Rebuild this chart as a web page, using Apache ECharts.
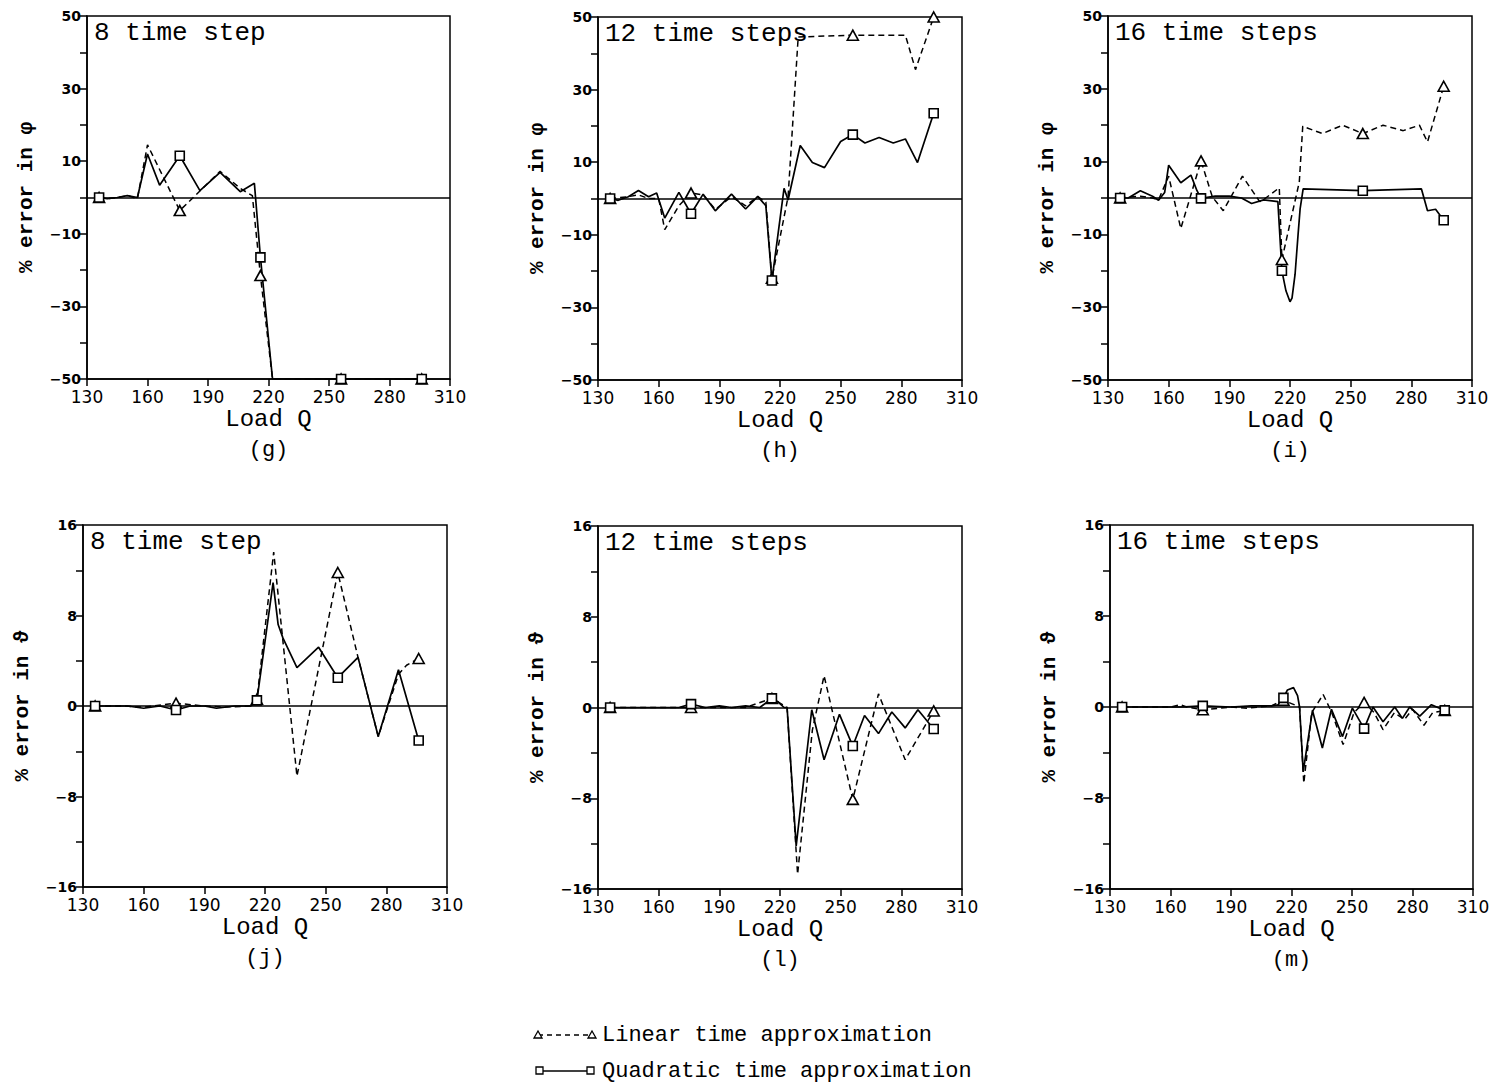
<!DOCTYPE html>
<html><head><meta charset="utf-8">
<script src="https://cdn.jsdelivr.net/npm/echarts@6/dist/echarts.min.js"></script>
<style>html,body{margin:0;padding:0;background:#fff}#c{width:1494px;height:1092px}</style>
</head><body><div id="c"></div>
<script>
// ---------- DATA ----------
const markerQ = [136, 176, 216, 256, 296];
const xMin = 130, xMax = 310, xStep = 30;

// (g) phi, 8 time steps
const gLinQ  = [136,140,145,150,155,160,176,196,206,212,216,222,256,296];
const gLinV  = [0,-0.3,0,0.5,-0.3,14.5,-3.6,7.2,2.5,0.5,-21.5,-50,-50,-50];
const gQuadQ = [136,140,145,150,155,160,166,176,186,196,206,213,216,222,256,296];
const gQuadV = [0,-0.3,0,0.5,0,12,3.4,11.5,1.9,6.9,1.6,3.9,-16.5,-50,-50,-50];

// (h) phi, 12 time steps
const hLinQ  = [136,145,150,155,160,163,170,176,182,188,196,203,209,213,216,224,229,256,282,287,296];
const hLinV  = [0,0.5,1,0,0,-8.6,-2,1.5,1,-3,0.5,-2,0.5,-1,-22,0.5,44.5,45,45,35.5,50];
const hQuadQ = [136,140,145,150,155,159,163,170,176,182,188,196,203,209,213,216,222,224,230,236,242,250,256,262,269,276,282,288,296];
const hQuadV = [0,-0.5,0.5,2.2,0.5,1.5,-5.4,1.7,-4.2,1.2,-3.4,1.2,-2.9,0.6,-2,-22.6,2.8,-0.4,14.6,9.9,8.5,15.7,17.6,15.3,16.8,15.3,16.4,9.9,23.5];

// (i) phi, 16 time steps
const iLinQ  = [136,146,152,155,160,166,176,181.6,187,196.5,205,208,214.7,216,224.6,226.3,236,246,256,266,276,284,288,296];
const iLinV  = [0,0.5,0,-0.5,6,-8.4,10.2,0.3,-3.5,6,-1,0,2.8,-16.9,4.4,19.7,17.7,20,17.7,20,18.5,20,15.4,30.7];
const iQuadQ = [136,140,146,152,155,158,160,166,171,174,176,183,190,196,201,207,214,216,218,220,221,222.5,224,225,226.5,256,285,288,292,296];
const iQuadV = [0,0,2,0.5,-0.6,1.5,9,4.2,6.3,2,-0.1,0.5,0.5,0,-1.5,-0.5,-1,-20,-25.5,-28.5,-27.5,-21,-10,-3,2.5,2,2.5,-3.5,-3.1,-6.1];

// (j) theta, 8 time steps
const jLinQ  = [136,150,160,176,190,200,213,216,224.3,235.8,256,266,276,286,290,296];
const jLinV  = [0,0,-0.1,0.25,0,-0.1,0,0.6,13.6,-6.2,11.8,4.3,-2.7,2.8,3.6,4.2];
const jQuadQ = [136,145,152,160,168,176,183,190,196,205,213,216,224,226.5,228.9,235.8,246.5,256,266,276,286,296];
const jQuadV = [0,0,0,-0.2,0,-0.35,0,0,-0.2,0,0,0.5,10.9,7.2,6,3.4,5.2,2.5,4.3,-2.7,3.2,-3.05];

// (l) theta, 12 time steps
const lLinQ  = [136,150,176,190,203,216,219,223.5,228.7,236,241.8,256,268.7,281.9,296];
const lLinV  = [0,0,0,0,0,0.8,0.5,0,-14.7,-2,2.8,-8.1,1.2,-4.6,-0.3];
const lQuadQ = [136,150,160,170,176,183,190,196,203,210,216,219,222,223.5,228,235.7,241.8,249.4,256,261.8,268.7,275.3,281.9,288.2,296];
const lQuadV = [0,0,0,0,0.3,0,0.15,0,0.15,0,0.8,0.5,0,0,-12.2,-0.2,-4.6,-0.6,-3.4,-0.7,-2.3,-0.4,-1.8,-0.2,-1.9];

// (m) theta, 16 time steps
const mLinQ  = [136,160,165,168,176,190,198,210,216,220,224,226.1,230,235.7,240,245.6,251,256,261,265.4,271,276,280,285.7,290,296];
const mLinV  = [0,0,0.2,0,-0.25,0,-0.1,0.1,0.6,0.3,0,-6.7,-0.5,1.1,-0.5,-3.3,-0.5,0.4,-0.5,-2.0,-0.5,-1.1,-0.2,-1.6,-0.5,-0.3];
const mQuadQ = [136,150,165,176,190,200,210,214,216,218,221,223,224,225.8,230.4,235.3,239.8,245.3,250.2,256,260.4,265.4,271.2,275,278.6,283.6,289.4,296];
const mQuadV = [0,0,0,0.1,0,0.1,0.1,0.2,0.8,1.5,1.7,1,0,-5.7,-0.3,-3.6,-0.2,-2.6,-0.1,-1.9,0,-1.3,0,-1.0,0,-0.8,0.2,-0.3];

const panelLetters = ['(g)','(h)','(i)','(j)','(l)','(m)'];
const panelTitles  = ['8 time step','12 time steps','16 time steps','8 time step','12 time steps','16 time steps'];
const yNames       = ['% error in \u03c6','% error in \u03c6','% error in \u03c6','% error in \u03d1','% error in \u03d1','% error in \u03d1'];
const xName        = 'Load Q';
const legendLabels = ['Linear time approximation','Quadratic time approximation'];
const phiRange   = [-50, 50, 10, 20];   // min, max, tick step, label step
const thetaRange = [-16, 16, 4, 8];

// ---------- LAYOUT ----------
const grids = [
  {left:87,  top:16,  width:363, height:363},
  {left:598, top:17,  width:364, height:363},
  {left:1108,top:16,  width:364, height:364},
  {left:83,  top:525, width:364, height:362},
  {left:598, top:526, width:364, height:363},
  {left:1110,top:525, width:363, height:364}
];
const panels = [
  {lin:[gLinQ,gLinV], quad:[gQuadQ,gQuadV], r:phiRange},
  {lin:[hLinQ,hLinV], quad:[hQuadQ,hQuadV], r:phiRange},
  {lin:[iLinQ,iLinV], quad:[iQuadQ,iQuadV], r:phiRange},
  {lin:[jLinQ,jLinV], quad:[jQuadQ,jQuadV], r:thetaRange},
  {lin:[lLinQ,lLinV], quad:[lQuadQ,lQuadV], r:thetaRange},
  {lin:[mLinQ,mLinV], quad:[mQuadQ,mQuadV], r:thetaRange}
];

const MONO = '"Liberation Mono", "DejaVu Sans Mono", monospace';
const SANS = '"DejaVu Sans", "Liberation Sans", sans-serif';
const fmtNum = v => v < 0 ? '\u2212' + Math.abs(v) : String(v);
const zip = (q, v) => q.map((x, k) => [x, v[k]]);
const markers = (q, v) => zip(q, v).filter(p => markerQ.includes(p[0]));

const option = {
  animation: false,
  backgroundColor: '#fff',
  grid: [], xAxis: [], yAxis: [], series: [], graphic: []
};

panels.forEach((p, i) => {
  const g = grids[i];
  option.grid.push(Object.assign({show:true, borderColor:'#000', borderWidth:1.5,
    backgroundColor:'transparent', containLabel:false, outerBoundsMode:'none'}, g));
  option.xAxis.push({
    type:'value', gridIndex:i, min:xMin, max:xMax, interval:xStep,
    name:xName, nameLocation:'middle', nameGap:28,
    nameTextStyle:{fontFamily:MONO, fontSize:24, color:'#000'},
    axisLine:{onZero:false, lineStyle:{color:'#000', width:1.5}},
    axisTick:{show:true, inside:false, length:7, lineStyle:{color:'#000', width:1.5}},
    axisLabel:{fontFamily:SANS, fontSize:17, color:'#000', margin:9, showMinLabel:true, showMaxLabel:true},
    splitLine:{show:false}
  });
  const [ymin, ymax, ystep, lstep] = p.r;
  option.yAxis.push({
    type:'value', gridIndex:i, min:ymin, max:ymax, interval:ystep,
    name:yNames[i], nameLocation:'middle', nameGap:50, nameRotate:90,
    nameTextStyle:{fontFamily:MONO, fontSize:21, fontWeight:'bold', color:'#000'},
    axisLine:{onZero:false, lineStyle:{color:'#000', width:1.5}},
    axisTick:{show:true, inside:false, length:7, lineStyle:{color:'#000', width:1.5}},
    axisLabel:{fontFamily:SANS, fontSize:14, fontWeight:'bold', color:'#000', margin:6,
      showMinLabel:true, showMaxLabel:true,
      formatter: v => ((v - ymin) % lstep === 0 ? fmtNum(v) : '')},
    splitLine:{show:false}
  });
  option.series.push({
    type:'line', xAxisIndex:i, yAxisIndex:i, name:legendLabels[0],
    data:zip(p.lin[0], p.lin[1]), symbol:'none', showSymbol:false, smooth:false,
    lineStyle:{color:'#000', width:1.5, type:[6,4]}, z:3
  });
  option.series.push({
    type:'line', xAxisIndex:i, yAxisIndex:i, name:legendLabels[1],
    data:zip(p.quad[0], p.quad[1]), symbol:'none', showSymbol:false, smooth:false,
    lineStyle:{color:'#000', width:1.7, type:'solid'}, z:3,
    markLine:{silent:true, symbol:['none','none'], label:{show:false},
      lineStyle:{color:'#000', type:'solid', width:1.5}, data:[{yAxis:0}]}
  });
  option.series.push({
    type:'scatter', xAxisIndex:i, yAxisIndex:i, clip:false,
    data:markers(p.lin[0], p.lin[1]), symbol:'triangle', symbolSize:[11,10],
    itemStyle:{color:'#fff', borderColor:'#000', borderWidth:1.6, opacity:1}, z:5
  });
  option.series.push({
    type:'scatter', xAxisIndex:i, yAxisIndex:i, clip:false,
    data:markers(p.quad[0], p.quad[1]), symbol:'rect', symbolSize:9,
    itemStyle:{color:'#fff', borderColor:'#000', borderWidth:1.6, opacity:1}, z:6
  });
  option.graphic.push({
    type:'text', left:g.left + 7, top:g.top + 4, z:10,
    style:{text:panelTitles[i], font:'26px ' + MONO, fill:'#000'}
  });
  option.graphic.push({
    type:'text', x:g.left + g.width / 2, y:g.top + g.height + 71, z:10,
    style:{text:panelLetters[i], font:'22px ' + MONO, fill:'#000', textAlign:'center', textVerticalAlign:'middle'}
  });
});

// legend (drawn manually: marker - line - marker)
option.graphic.push(
  {type:'line', shape:{x1:538, y1:1035, x2:592, y2:1035}, style:{stroke:'#000', lineWidth:1.3, lineDash:[5,4]}},
  {type:'polygon', shape:{points:[[534,1038],[542,1038],[538,1031]]}, style:{fill:'#fff', stroke:'#000', lineWidth:1.3}},
  {type:'polygon', shape:{points:[[588,1038],[596,1038],[592,1031]]}, style:{fill:'#fff', stroke:'#000', lineWidth:1.3}},
  {type:'text', x:602, y:1035, style:{text:legendLabels[0], font:'22px ' + MONO, fill:'#000', textVerticalAlign:'middle'}},
  {type:'line', shape:{x1:540, y1:1071, x2:590, y2:1071}, style:{stroke:'#000', lineWidth:1.3}},
  {type:'rect', shape:{x:536, y:1067, width:7, height:7}, style:{fill:'#fff', stroke:'#000', lineWidth:1.3}},
  {type:'rect', shape:{x:587, y:1067, width:7, height:7}, style:{fill:'#fff', stroke:'#000', lineWidth:1.3}},
  {type:'text', x:602, y:1071, style:{text:legendLabels[1], font:'22px ' + MONO, fill:'#000', textVerticalAlign:'middle'}}
);

const chart = echarts.init(document.getElementById('c'), null, {renderer:'svg', width:1494, height:1092});
chart.setOption(option);
</script>
</body></html>
